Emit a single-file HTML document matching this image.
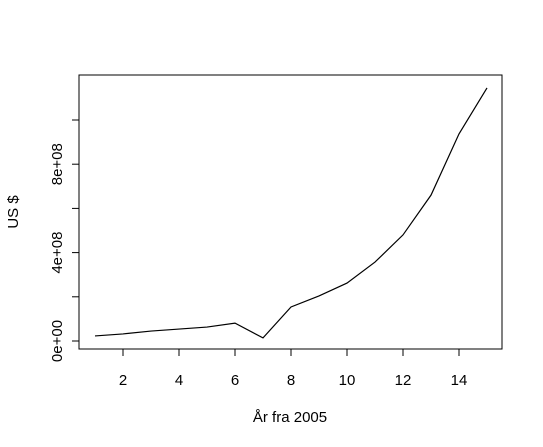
<!DOCTYPE html>
<html><head><meta charset="utf-8"><style>body{margin:0;background:#fff}svg{display:block;font-family:"Liberation Sans",sans-serif}</style></head>
<body>
<svg id="chart" width="543" height="447"></svg>
<script>
const years=[1,2,3,4,5,6,7,8,9,10,11,12,13,14,15];
const values=[0.23e8,0.32e8,0.45e8,0.54e8,0.63e8,0.81e8,0.14e8,1.54e8,2.04e8,2.62e8,3.57e8,4.8e8,6.6e8,9.37e8,11.45e8];
const xTicks=[2,4,6,8,10,12,14];
const yTicks=[0,2e8,4e8,6e8,8e8,10e8];
const yLabels={0:"0e+00",4e8:"4e+08",8e8:"8e+08"};
const NS="http://www.w3.org/2000/svg";
const svg=document.getElementById('chart');
const X=v=>95+(v-1)*28;
const Y=v=>341-v/1e8*22.1;
function mk(t,a){const e=document.createElementNS(NS,t);for(const k in a)e.setAttribute(k,a[k]);svg.appendChild(e);return e;}
const box=mk('rect',{x:79,y:75,width:423,height:274,fill:'none',stroke:'#000'});


xTicks.forEach(t=>{
 const l=mk('line',{x1:X(t),x2:X(t),y1:349,y2:356,stroke:'#000'});
 
 
 const tx=mk('text',{x:X(t),y:385,'text-anchor':'middle','font-size':15});tx.textContent=t;
 
 
});
yTicks.forEach(t=>{
 const l=mk('line',{x1:72,x2:79,y1:Y(t),y2:Y(t),stroke:'#000'});
 
 
 if(yLabels[t]){const tx=mk('text',{x:0,y:0,'text-anchor':'middle','font-size':15,transform:`translate(62,${Y(t)}) rotate(-90)`});tx.textContent=yLabels[t];
 
 }
});
const p=mk('polyline',{points:years.map((x,i)=>X(x)+','+Y(values[i])).join(' '),fill:'none',stroke:'#000','stroke-width':1.2});


const xt=mk('text',{x:290,y:422,'text-anchor':'middle','font-size':15});xt.textContent='År fra 2005';


const yt=mk('text',{x:0,y:0,'text-anchor':'middle','font-size':15,transform:'translate(18,212) rotate(-90)'});yt.textContent='US $';


</script>
</body></html>
